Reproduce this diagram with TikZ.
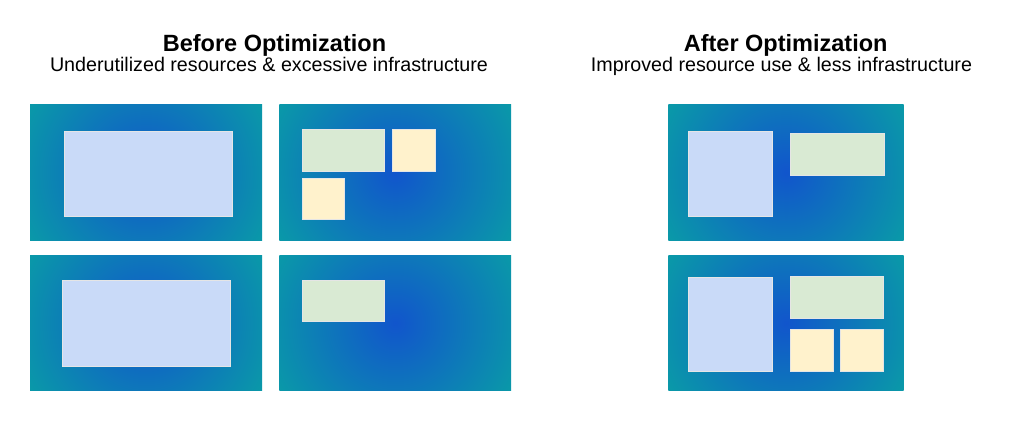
\documentclass[tikz,border=0pt]{standalone}
\usepackage{fontspec}
\setmainfont{Liberation Sans}

\definecolor{panelCore}{HTML}{1155CC}
\definecolor{panelRim}{HTML}{0A99A8}
\definecolor{vmBlue}{HTML}{C9DAF8}
\definecolor{vmGreen}{HTML}{D9EAD3}
\definecolor{vmYellow}{HTML}{FFF2CC}
\pgfdeclareradialshading{panelshade}{\pgfpointorigin}{color(0bp)=(panelCore); color(25bp)=(panelRim); color(50bp)=(panelRim)}

\begin{document}
\begin{tikzpicture}[x=1pt,y=-1pt,
  title/.style={font=\fontsize{23.5}{28}\selectfont\bfseries, anchor=base},
  subtitle/.style={font=\fontsize{19.7}{24}\selectfont, anchor=base},
  panel/.style={path picture={
      \shade[shading=panelshade] ([shift={(-135,-135)}]path picture bounding box.center)
        rectangle ([shift={(135,135)}]path picture bounding box.center);}},
  vm/.style={draw=white!80!gray, line width=0.4pt}]

\useasboundingbox[fill=white] (0,0) rectangle (1024,424);

% headings
\node[title] (before) at (274.5,51.7) {Before Optimization};
\node[subtitle] (beforesub) at (269,71) {Underutilized resources \& excessive infrastructure};
\node[title] (after) at (785.7,51.7) {After Optimization};
\node[subtitle] (aftersub) at (781.5,71) {Improved resource use \& less infrastructure};

% before: four servers
\path[panel] (30,104.7) rectangle (262,240);
\path[panel] (279.3,104.7) rectangle (511,240);
\path[panel] (30,255.3) rectangle (262,390.7);
\path[panel] (279.3,255.3) rectangle (511,390.7);

\draw[vm, fill=vmBlue] (63.7,130.7) rectangle (231.7,216.3);
\draw[vm, fill=vmGreen] (301.7,129.3) rectangle (384.3,171);
\draw[vm, fill=vmYellow] (392.3,129.3) rectangle (435,171);
\draw[vm, fill=vmYellow] (301.7,178.3) rectangle (344.3,219.3);

\draw[vm, fill=vmBlue] (61.7,280.3) rectangle (230,366);
\draw[vm, fill=vmGreen] (301.7,279.7) rectangle (384.3,321);

% after: two servers
\path[panel] (668.3,104.7) rectangle (903.7,240);
\path[panel] (668.3,255.3) rectangle (903.7,390.7);

\draw[vm, fill=vmBlue] (688.3,130.7) rectangle (772,216.3);
\draw[vm, fill=vmGreen] (790.3,133.3) rectangle (884,174.7);

\draw[vm, fill=vmBlue] (688.3,277) rectangle (772,370.7);
\draw[vm, fill=vmGreen] (790.3,276.3) rectangle (883.3,318);
\draw[vm, fill=vmYellow] (790.3,329) rectangle (833.3,370.7);
\draw[vm, fill=vmYellow] (840,329) rectangle (883.3,370.7);

\end{tikzpicture}
\end{document}
